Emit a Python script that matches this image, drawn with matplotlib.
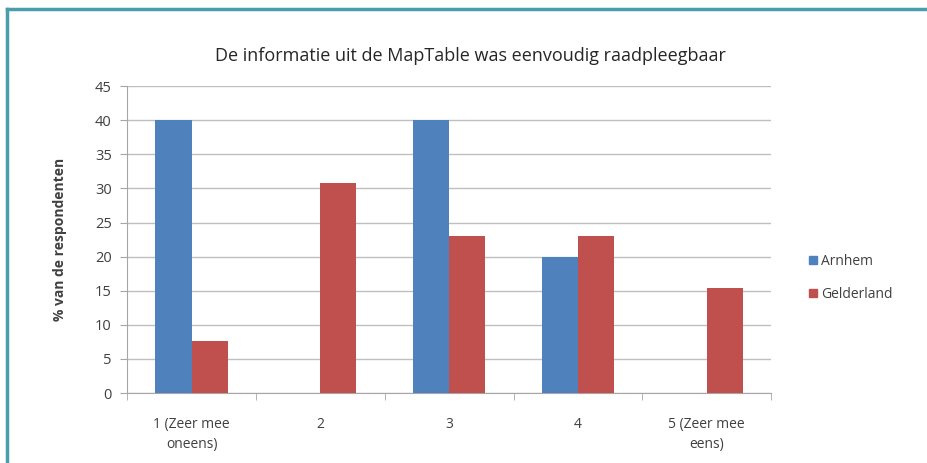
import numpy as np
import matplotlib
matplotlib.use("Agg")
import matplotlib.pyplot as plt
from matplotlib.lines import Line2D

plt.rcParams["font.family"] = ["Open Sans", "DejaVu Sans"]

categories = ["1 (Zeer mee\noneens)", "2", "3", "4", "5 (Zeer mee\neens)"]
arnhem = [40, 0, 40, 20, 0]
gelderland = [7.7, 30.8, 23.1, 23.1, 15.4]
series_names = ["Arnhem", "Gelderland"]
title = "De informatie uit de MapTable was eenvoudig raadpleegbaar"
ylabel = "% van de respondenten"

BLUE = "#4F81BD"
RED = "#C0504D"
TXT = "#404040"

fig = plt.figure(figsize=(9.28, 4.63), dpi=100)
ax = fig.add_axes([0.137, 0.151, 0.694, 0.663])

x = np.arange(len(categories))
w = 0.28
ax.bar(x - w / 2, arnhem, width=w, color=BLUE, label=series_names[0], zorder=3)
ax.bar(x + w / 2, gelderland, width=w, color=RED, label=series_names[1], zorder=3)

ax.set_xlim(-0.5, len(categories) - 0.5)
ax.set_ylim(0, 45)
ax.set_yticks(np.arange(0, 46, 5))
ax.yaxis.grid(True, color="#BFBFBF", lw=1.0, zorder=0)
ax.set_axisbelow(True)

# category labels centred, tick marks between categories
ax.set_xticks(x)
ax.set_xticklabels(categories, fontsize=10, color=TXT, linespacing=1.45)
ax.tick_params(axis="x", length=0, pad=17)
ax.set_xticks(np.arange(-0.5, len(categories)), minor=True)
ax.tick_params(axis="x", which="minor", length=5, color="#A6A6A6")
ax.tick_params(axis="y", length=5, color="#A6A6A6", labelsize=10.5,
               labelcolor=TXT, pad=6)

for s in ["top", "right"]:
    ax.spines[s].set_visible(False)
for s in ["left", "bottom"]:
    ax.spines[s].set_color("#A6A6A6")

ax.set_ylabel(ylabel, fontsize=10, fontweight="bold", color=TXT, labelpad=20)
fig.text(0.507, 0.88, title, ha="center", va="center", fontsize=13, color="#262626")

handles = [Line2D([], [], marker="s", ls="", ms=6, color=c) for c in (BLUE, RED)]
fig.legend(handles, series_names, loc="center left", bbox_to_anchor=(0.855, 0.4),
           frameon=False, fontsize=10, labelcolor=TXT, handletextpad=0.1,
           labelspacing=1.3, handlelength=1.0)

# teal frame on left and top
frame_col = "#4A9DAA"
fig.add_artist(Line2D([0.0075, 0.0075], [0, 0.981], transform=fig.transFigure,
                      color=frame_col, lw=2.5))
fig.add_artist(Line2D([0.0075, 1.0], [0.981, 0.981], transform=fig.transFigure,
                      color=frame_col, lw=2.5))

fig.savefig("out.png", dpi=100)
